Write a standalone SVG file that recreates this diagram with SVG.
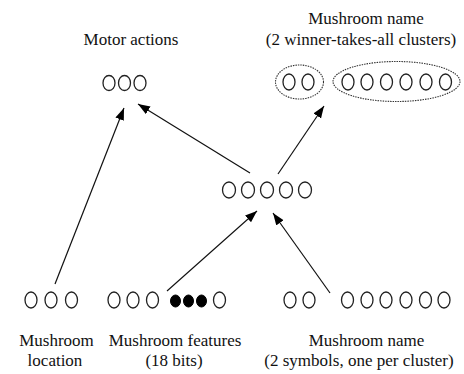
<svg xmlns="http://www.w3.org/2000/svg" width="464" height="374" viewBox="0 0 464 374">
  <defs>
    <marker id="arrow" markerUnits="userSpaceOnUse" markerWidth="13" markerHeight="10" refX="12" refY="4.5" orient="auto">
      <path d="M0,0 L12,4.5 L0,9 z" fill="#000"/>
    </marker>
  </defs>
  <style>
    .unit { fill: #fff; stroke: #222; stroke-width: 1.3; }
    .on { fill: #000; stroke: #000; stroke-width: 1; }
    .cluster { fill: none; stroke: #333; stroke-width: 1.1; stroke-dasharray: 1.5 1; }
    .label { font-size: 17px; fill: #111; text-anchor: middle; }
    .link { stroke: #111; stroke-width: 1.2; fill: none; marker-end: url(#arrow); }
  </style>
  <rect width="464" height="374" fill="#fff"/>

  <!-- Connectors -->
  <g id="connectors">
    <line class="link" x1="55" y1="284" x2="124" y2="108"/>
    <line class="link" x1="167" y1="291" x2="257" y2="211"/>
    <line class="link" x1="330" y1="293" x2="273" y2="213"/>
    <line class="link" x1="250" y1="173" x2="138" y2="104"/>
    <line class="link" x1="278" y1="174" x2="324" y2="106"/>
  </g>

  <g font-family="'Liberation Serif', 'DejaVu Serif', 'Times New Roman', serif">
    <!-- Output layer: motor actions -->
    <g id="motor-actions">
      <text class="label" x="131" y="45">Motor actions</text>
      <ellipse class="unit" cx="109" cy="83" rx="6" ry="7.5"/>
      <ellipse class="unit" cx="124.5" cy="83" rx="6" ry="7.5"/>
      <ellipse class="unit" cx="140" cy="83" rx="6" ry="7.5"/>
    </g>

    <!-- Output layer: mushroom name, two winner-takes-all clusters -->
    <g id="name-output">
      <text class="label" x="366" y="24">Mushroom name</text>
      <text class="label" x="361" y="45">(2 winner-takes-all clusters)</text>
      <ellipse class="cluster" cx="299.5" cy="82" rx="24" ry="17"/>
      <ellipse class="cluster" cx="396.5" cy="81.5" rx="63.5" ry="20"/>
      <ellipse class="unit" cx="289" cy="82" rx="6" ry="8"/>
      <ellipse class="unit" cx="308" cy="82" rx="6" ry="8"/>
      <ellipse class="unit" cx="348" cy="82" rx="6" ry="8"/>
      <ellipse class="unit" cx="367" cy="82" rx="6" ry="8"/>
      <ellipse class="unit" cx="386.5" cy="82" rx="6" ry="8"/>
      <ellipse class="unit" cx="406" cy="82" rx="6" ry="8"/>
      <ellipse class="unit" cx="426" cy="82" rx="6" ry="8"/>
      <ellipse class="unit" cx="445.5" cy="82" rx="6" ry="8"/>
    </g>

    <!-- Hidden layer -->
    <g id="hidden">
      <ellipse class="unit" cx="229" cy="190" rx="6.5" ry="8"/>
      <ellipse class="unit" cx="248" cy="190" rx="6.5" ry="8"/>
      <ellipse class="unit" cx="267" cy="190" rx="6.5" ry="8"/>
      <ellipse class="unit" cx="286" cy="190" rx="6.5" ry="8"/>
      <ellipse class="unit" cx="305" cy="190" rx="6.5" ry="8"/>
    </g>

    <!-- Input: mushroom location -->
    <g id="location-input">
      <ellipse class="unit" cx="31" cy="300" rx="6" ry="8"/>
      <ellipse class="unit" cx="51" cy="300" rx="6" ry="8"/>
      <ellipse class="unit" cx="71.5" cy="300" rx="6" ry="8"/>
      <text class="label" x="56.5" y="346">Mushroom</text>
      <text class="label" x="55" y="366">location</text>
    </g>

    <!-- Input: mushroom features -->
    <g id="features-input">
      <ellipse class="unit" cx="114" cy="300" rx="6" ry="8"/>
      <ellipse class="unit" cx="133" cy="300" rx="6" ry="8"/>
      <ellipse class="unit" cx="152.5" cy="300" rx="6" ry="8"/>
      <ellipse class="on" cx="175.5" cy="301" rx="5" ry="6"/>
      <ellipse class="on" cx="188.5" cy="301" rx="5" ry="6"/>
      <ellipse class="on" cx="201.5" cy="301" rx="5" ry="6"/>
      <ellipse class="unit" cx="219.5" cy="300" rx="6" ry="8"/>
      <text class="label" x="175" y="346">Mushroom features</text>
      <text class="label" x="174" y="366">(18 bits)</text>
    </g>

    <!-- Input: mushroom name symbols -->
    <g id="name-input">
      <ellipse class="unit" cx="290" cy="300" rx="6" ry="8"/>
      <ellipse class="unit" cx="309" cy="300" rx="6" ry="8"/>
      <ellipse class="unit" cx="347.5" cy="300" rx="6" ry="8"/>
      <ellipse class="unit" cx="367" cy="300" rx="6" ry="8"/>
      <ellipse class="unit" cx="386" cy="300" rx="6" ry="8"/>
      <ellipse class="unit" cx="406" cy="300" rx="6" ry="8"/>
      <ellipse class="unit" cx="425.5" cy="300" rx="6" ry="8"/>
      <ellipse class="unit" cx="444" cy="300" rx="6" ry="8"/>
      <text class="label" x="366.5" y="346">Mushroom name</text>
      <text class="label" x="359" y="366">(2 symbols, one per cluster)</text>
    </g>
  </g>
</svg>
